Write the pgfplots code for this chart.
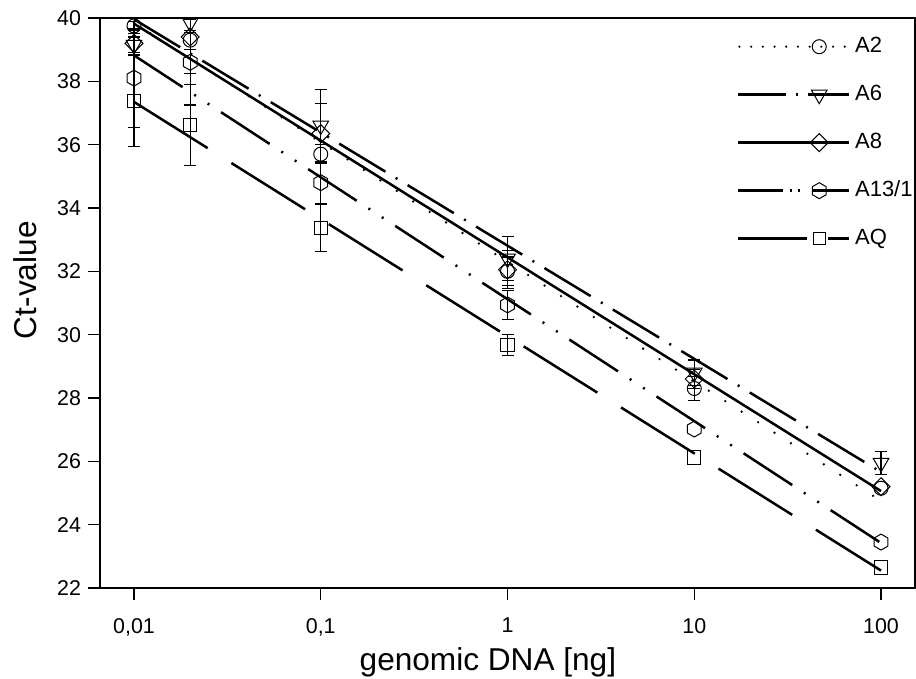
\documentclass[border=0pt]{standalone}
\usepackage{fontspec}
\setmainfont{Liberation Sans}
\usepackage{pgfplots}
\usepackage{pgfplotstable}
\pgfplotsset{compat=1.18}
\usetikzlibrary{plotmarks}
\pgfdeclareplotmark{hexagon}{%
  \pgfpathmoveto{\pgfpointpolar{90}{\pgfplotmarksize}}%
  \pgfpathlineto{\pgfpointpolar{150}{\pgfplotmarksize}}%
  \pgfpathlineto{\pgfpointpolar{210}{\pgfplotmarksize}}%
  \pgfpathlineto{\pgfpointpolar{270}{\pgfplotmarksize}}%
  \pgfpathlineto{\pgfpointpolar{330}{\pgfplotmarksize}}%
  \pgfpathlineto{\pgfpointpolar{30}{\pgfplotmarksize}}%
  \pgfpathclose\pgfusepathqstroke}
\tikzset{
  A2line/.style={black, line width=1.3pt, line cap=round, dash pattern=on 0pt off 9.75pt},
  A6line/.style={black, line width=1.25pt, dash pattern=on 27pt off 6pt on 1pt off 6pt},
  A8line/.style={black, line width=1.25pt, solid},
  A13line/.style={black, line width=1.25pt, dash pattern=on 29pt off 7pt on 1pt off 7pt on 1pt off 7pt},
  AQline/.style={black, line width=1.25pt, dash pattern=on 43.5pt off 14pt},
  mk/.style={black, solid, line width=0.5pt},
  lg/.style={black, solid, line width=1.25pt},
  bb/.style={draw=none, fill=none},
}
\pgfplotsset{
  legA2/.style={legend image code/.code={%
    \path[bb] (0pt,-6pt) rectangle (55.5pt,6pt);
    \draw[black, line width=1.2pt, line cap=round, dash pattern=on 0pt off 5.85pt] (0.6pt,0pt) -- (55.5pt,0pt);
    \draw[mk] plot[mark=o, mark size=3.5pt] coordinates {(40.5pt,0pt)};}},
  legA6/.style={legend image code/.code={%
    \path[bb] (0pt,-6pt) rectangle (55.5pt,6pt);
    \draw[lg] (0pt,0pt) -- (24pt,0pt);
    \draw[lg] (28.8pt,0pt) -- (29.8pt,0pt);
    \draw[lg] (35pt,0pt) -- (55.5pt,0pt);
    \draw[mk] plot[mark=triangle, mark size=4.5pt, mark options={rotate=180}] coordinates {(40.5pt,0pt)};}},
  legA8/.style={legend image code/.code={%
    \path[bb] (0pt,-6pt) rectangle (55.5pt,6pt);
    \draw[lg] (0pt,0pt) -- (55.5pt,0pt);
    \draw[mk] plot[mark=square, mark size=3.18pt, mark options={rotate=45}] coordinates {(40.5pt,0pt)};}},
  legA13/.style={legend image code/.code={%
    \path[bb] (0pt,-6pt) rectangle (55.5pt,6pt);
    \draw[lg] (0pt,0pt) -- (22.5pt,0pt);
    \draw[lg] (26pt,0pt) -- (27pt,0pt);
    \draw[lg] (30pt,0pt) -- (31pt,0pt);
    \draw[lg] (37.5pt,0pt) -- (55.5pt,0pt);
    \draw[mk] plot[mark=hexagon, mark size=4pt] coordinates {(40.5pt,0pt)};}},
  legAQ/.style={legend image code/.code={%
    \path[bb] (0pt,-6pt) rectangle (55.5pt,6pt);
    \draw[lg] (0pt,0pt) -- (34.5pt,0pt);
    \draw[lg] (45pt,0pt) -- (55.5pt,0pt);
    \draw[mk] plot[mark=square, mark size=3pt] coordinates {(40.8pt,0pt)};}},
  ebar/.style={forget plot, only marks, mark=*, mark size=0pt,
    error bars/.cd, y dir=both, y explicit},
}
% mean Ct values
\pgfplotstableread{
x y
0.01 39.75
0.02 39.30
0.1 35.70
1 32.00
10 28.30
100 25.15
}\dataAtwo
\pgfplotstableread{
x y
0.01 39.15
0.02 39.85
0.1 36.60
1 32.40
10 28.80
100 25.95
}\dataAsix
\pgfplotstableread{
x y
0.01 39.20
0.02 39.40
0.1 36.35
1 32.05
10 28.60
100 25.20
}\dataAeight
\pgfplotstableread{
x y
0.01 38.10
0.02 38.60
0.1 34.80
1 30.94
10 27.02
100 23.45
}\dataAthirteen
\pgfplotstableread{
x y
0.01 37.38
0.02 36.62
0.1 33.37
1 29.67
10 26.12
100 22.65
}\dataAQ
% error bars (points whose bars are visible)
\pgfplotstableread{
x y e
0.01 39.75 0.15
0.02 39.30 0.30
0.1 35.70 0.30
1 32.00 0.45
10 28.30 0.38
}\errAtwo
\pgfplotstableread{
x y e
0.01 39.15 0.25
0.02 39.85 0.30
0.1 36.60 1.15
1 32.40 0.70
10 28.80 0.40
100 25.95 0.37
}\errAsix
\pgfplotstableread{
x y e
0.01 39.20 0.30
0.02 39.40 1.15
0.1 36.35 0.95
1 32.05 0.60
10 28.60 0.30
}\errAeight
\pgfplotstableread{
x y e
0.01 38.10 1.55
0.02 38.60 1.35
0.1 34.80 0.65
1 30.94 0.46
}\errAthirteen
\pgfplotstableread{
x y e
0.01 37.38 1.45
0.02 36.62 1.27
0.1 33.37 0.75
1 29.67 0.34
}\errAQ
\begin{document}
\begin{tikzpicture}
\begin{axis}[
  xmode=log, scale only axis, width=407.5pt, height=285pt,
  xmin=0.006577, xmax=152, ymin=22, ymax=40,
  xtick={0.01,0.1,1,10,100}, xticklabels={{0,01},{0,1},1,10,100},
  ytick={22,24,...,40},
  minor tick length=0pt, major tick length=6pt, tick align=outside,
  xtick pos=bottom, ytick pos=left,
  tick style={black, line width=0.6pt},
  axis line style={black, line width=0.6pt},
  /pgf/number format/assume math mode=true,
  ticklabel style={font=\fontsize{10.7}{12}\selectfont},
  xticklabel style={yshift=-5.5pt},
  xlabel={genomic DNA [ng]}, ylabel={Ct-value},
  label style={font=\fontsize{15.8}{18}\selectfont},
  xlabel style={at={(axis description cs:0.476,-0.13)}, anchor=center},
  ylabel style={at={(axis description cs:-0.092,0.54)}, anchor=center},
  legend style={at={(axis description cs:0.7816,0.9707)}, anchor=north west,
    draw=none, fill=none, inner sep=0pt, outer sep=0pt,
    font=\fontsize{11}{13}\selectfont,
    row sep=12pt, column sep=2.3pt,
    cells={anchor=west},
    nodes={inner sep=0pt, text height=8pt, text depth=2pt}},
  legend cell align=left,
  error bars/error bar style={black, line width=0.6pt},
  error bars/error mark options={rotate=90, black, line width=0.6pt, mark size=3pt},
]
% regression lines
\addplot[A2line, forget plot] coordinates {(0.01,39.85) (100,24.75)};
\addplot[A6line, forget plot] coordinates {(0.01,39.96) (100,25.66)};
\addplot[A8line, forget plot] coordinates {(0.01,39.82) (100,25.06)};
\addplot[A13line, forget plot] coordinates {(0.01,38.82) (100,23.42)};
\addplot[AQline, forget plot] coordinates {(0.01,37.35) (100,22.55)};
% error bars
\addplot[ebar] table[x=x, y=y, y error=e] {\errAtwo};
\addplot[ebar] table[x=x, y=y, y error=e] {\errAsix};
\addplot[ebar] table[x=x, y=y, y error=e] {\errAeight};
\addplot[ebar] table[x=x, y=y, y error=e] {\errAthirteen};
\addplot[ebar] table[x=x, y=y, y error=e] {\errAQ};
% data points
\addplot[only marks, mark=o, mark size=3.5pt, mark options={mk}, legA2]
  table[x=x, y=y] {\dataAtwo};
\addlegendentry{A2}
\addplot[only marks, mark=triangle, mark size=4.5pt, mark options={mk, rotate=180}, legA6]
  table[x=x, y=y] {\dataAsix};
\addlegendentry{A6}
\addplot[only marks, mark=square, mark size=3.18pt, mark options={mk, rotate=45}, legA8]
  table[x=x, y=y] {\dataAeight};
\addlegendentry{A8}
\addplot[only marks, mark=hexagon, mark size=4pt, mark options={mk}, legA13]
  table[x=x, y=y] {\dataAthirteen};
\addlegendentry{A13/1}
\addplot[only marks, mark=square, mark size=3.3pt, mark options={mk}, legAQ]
  table[x=x, y=y] {\dataAQ};
\addlegendentry{AQ}
\end{axis}
\pgfresetboundingbox
\path[use as bounding box] (current axis.south west) ++(-50pt,-45.5pt) rectangle ++(458pt,339.5pt);
\end{tikzpicture}
\end{document}
